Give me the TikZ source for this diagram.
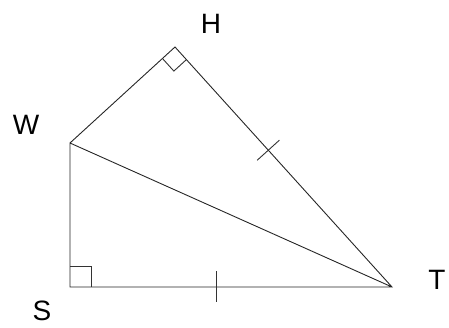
\documentclass[tikz,border=0pt]{standalone}
\usepackage{fontspec}
\setmainfont{Liberation Sans}
\usetikzlibrary{calc}
\begin{document}
\begin{tikzpicture}[x=1pt,y=-1pt,
  edge/.style={line width=0.9pt,black!85},
  tickmark/.style={line width=0.9pt,black!80},
  lbl/.style={font=\fontsize{28}{30}\selectfont,inner sep=0pt,anchor=center}]
\useasboundingbox (0,0) rectangle (449,328);
\coordinate (W) at (70,143);
\coordinate (H) at (175,47);
\coordinate (T) at (392,287);
\coordinate (S) at (70,287);
\draw[edge] (W) -- (H) -- (T) -- (S) -- (W) -- (T);
% right angle at H
\coordinate (h1) at ($(H)!17pt!(W)$);
\coordinate (h2) at ($(H)!17pt!(T)$);
\draw[tickmark] (h1) -- ($(h1)+(h2)-(H)$) -- (h2);
% right angle at S
\coordinate (s1) at (70,266);
\coordinate (s2) at (91,266);
\coordinate (s3) at (91,287);
\draw[tickmark] (s1) -- (s2) -- (s3);
% ticks
\coordinate (t1) at ($(H)!0.43!(T)$);
\draw[tickmark] ($(t1)!15pt!90:(T)$) -- ($(t1)!15pt!-90:(T)$);
\coordinate (t2a) at (216,271);
\coordinate (t2b) at (216,302);
\draw[tickmark] (t2a) -- (t2b);
\node[lbl] (lH) at (211,24) {H};
\node[lbl] (lW) at (26,125) {W};
\node[lbl] (lS) at (42,311) {S};
\node[lbl] (lT) at (437,280) {T};
\end{tikzpicture}
\end{document}
